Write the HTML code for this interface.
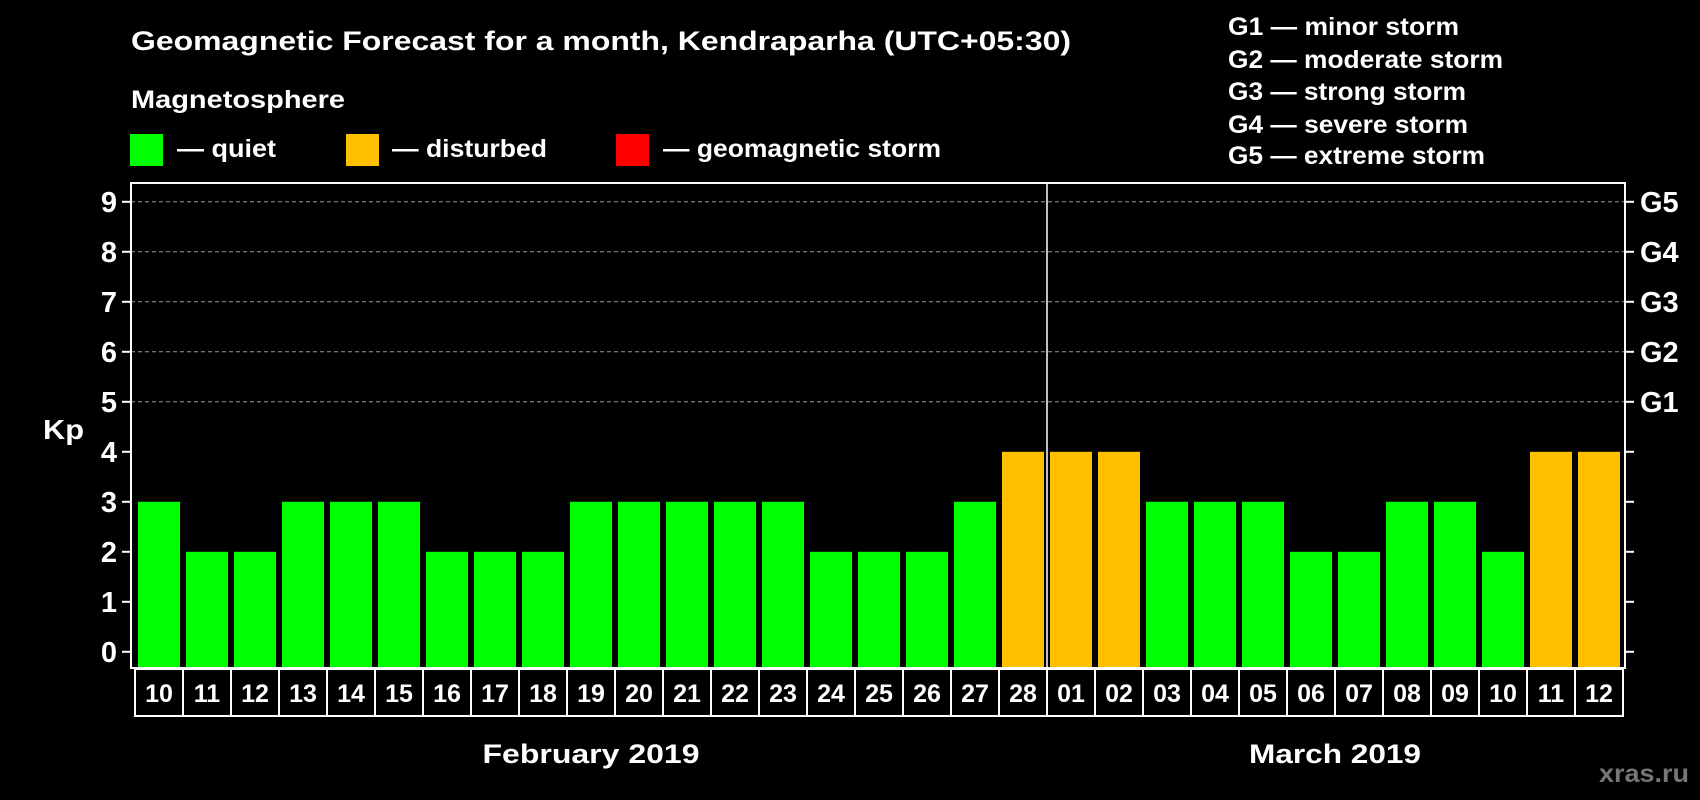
<!DOCTYPE html>
<html><head><meta charset="utf-8"><style>
html,body{margin:0;padding:0;background:#000;}
svg{display:block;font-family:"Liberation Sans",Arial,sans-serif;font-weight:bold;}
</style></head><body>
<svg id="chart" width="1700" height="800" viewBox="0 0 1700 800">
<rect x="0" y="0" width="1700" height="800" fill="#000"/>
<text x="131" y="50" fill="#fff" font-size="27" textLength="940" lengthAdjust="spacingAndGlyphs">Geomagnetic Forecast for a month, Kendraparha (UTC+05:30)</text>
<text x="131" y="108" fill="#fff" font-size="25" textLength="214" lengthAdjust="spacingAndGlyphs">Magnetosphere</text>
<g><rect x="130" y="134" width="33" height="32" fill="#00ff00"/><text x="177" y="157" fill="#fff" font-size="25" textLength="99" lengthAdjust="spacingAndGlyphs">— quiet</text></g>
<g><rect x="346" y="134" width="33" height="32" fill="#ffc000"/><text x="392" y="157" fill="#fff" font-size="25" textLength="155" lengthAdjust="spacingAndGlyphs">— disturbed</text></g>
<g><rect x="616" y="134" width="33" height="32" fill="#ff0000"/><text x="663" y="157" fill="#fff" font-size="25" textLength="278" lengthAdjust="spacingAndGlyphs">— geomagnetic storm</text></g>
<g fill="#fff" font-size="25" lengthAdjust="spacingAndGlyphs">
<text x="1228" y="35" textLength="231" lengthAdjust="spacingAndGlyphs">G1 — minor storm</text>
<text x="1228" y="68" textLength="275" lengthAdjust="spacingAndGlyphs">G2 — moderate storm</text>
<text x="1228" y="100" textLength="238" lengthAdjust="spacingAndGlyphs">G3 — strong storm</text>
<text x="1228" y="133" textLength="240" lengthAdjust="spacingAndGlyphs">G4 — severe storm</text>
<text x="1228" y="164" textLength="257" lengthAdjust="spacingAndGlyphs">G5 — extreme storm</text>
</g>
<text x="43" y="439" fill="#fff" font-size="28" textLength="41" lengthAdjust="spacingAndGlyphs">Kp</text>
<text x="1599" y="782" fill="#777" font-size="25" textLength="90" lengthAdjust="spacingAndGlyphs">xras.ru</text>
<g id="grid"></g><g id="bars"></g><g id="axes"></g><g id="dates"></g>
</svg>
<script>
const days = ["10","11","12","13","14","15","16","17","18","19","20","21","22","23","24","25","26","27","28","01","02","03","04","05","06","07","08","09","10","11","12"];
const kpValues = [3,2,2,3,3,3,2,2,2,3,3,3,3,3,2,2,2,3,4,4,4,3,3,3,2,2,3,3,2,4,4];
const yTicks = [0,1,2,3,4,5,6,7,8,9];
const gLabels = ["G1","G2","G3","G4","G5"];
const months = ["February 2019","March 2019"];
const monthStarts = [0,19];

const NS="http://www.w3.org/2000/svg";
const L=131,R=1625,T=183,B=668,X0=138,PITCH=48,BW=42;
const y=v=>651.8-v*50;
const x=i=>X0+i*PITCH;
function mk(tag,attrs,parent,text){const e=document.createElementNS(NS,tag);for(const k in attrs)e.setAttribute(k,attrs[k]);if(text!==undefined)e.textContent=text;parent.appendChild(e);return e;}
const grid=document.getElementById('grid'),bars=document.getElementById('bars'),axes=document.getElementById('axes'),dates=document.getElementById('dates');
yTicks.forEach(v=>{
  if(v>=5){const g=mk('line',{x1:L,x2:R,y1:y(v),y2:y(v),stroke:'#999','stroke-dasharray':'4,3','stroke-width':1},grid);
  
  }
  const t=mk('line',{x1:L-9,x2:L,y1:y(v),y2:y(v),stroke:'#fff','stroke-width':2},axes);
  
  
  const t2=mk('line',{x1:R,x2:R+9,y1:y(v),y2:y(v),stroke:'#fff','stroke-width':2},axes);
  
  
  const lb=mk('text',{x:L-14,y:y(v)+10,fill:'#fff','font-size':29,'text-anchor':'end'},axes,String(v));
  
  
});
gLabels.forEach((g,i)=>{
  const lb=mk('text',{x:R+15,y:y(5+i)+10,fill:'#fff','font-size':29},axes,g);
  
  
});
kpValues.forEach((v,i)=>{
  const col=v>=5?'#ff0000':(v>=4?'#ffc000':'#00ff00');
  const r=mk('rect',{x:x(i),y:y(v),width:BW,height:B-1-y(v),fill:col},bars);
  
  
  const c=mk('rect',{x:x(i)-3,y:B+1,width:PITCH,height:47,fill:'none',stroke:'#fff','stroke-width':2},dates);
  
  
  const t=mk('text',{x:x(i)+BW/2,y:B+34,fill:'#fff','font-size':25,'text-anchor':'middle'},dates,days[i]);
  
  
});
const fr=mk('rect',{x:L,y:T,width:R-L,height:B-T,fill:'none',stroke:'#fff','stroke-width':2},axes);


const dv=mk('line',{x1:x(19)-3,x2:x(19)-3,y1:T,y2:B,stroke:'#fff','stroke-width':1.5},axes);


const monthWidths=[217,172];
months.forEach((m,k)=>{
  const s=monthStarts[k],e=(k+1<monthStarts.length?monthStarts[k+1]:days.length);
  const cx=(x(s)-3+x(e)-3)/2;
  const t=mk('text',{x:cx,y:763,fill:'#fff','font-size':27,'text-anchor':'middle',textLength:monthWidths[k],lengthAdjust:'spacingAndGlyphs'},dates,m);
  
  
});
</script>
</body></html>
